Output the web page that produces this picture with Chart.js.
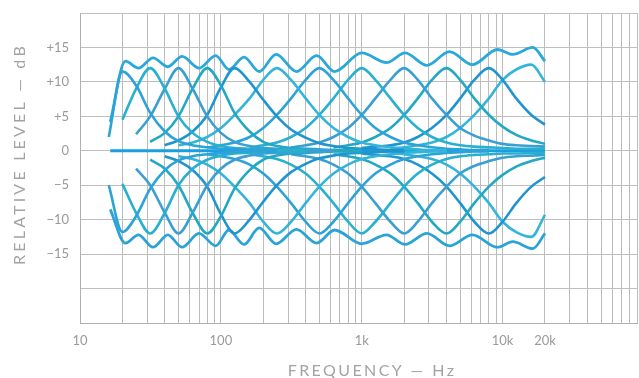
<!DOCTYPE html>
<html>
<head>
<meta charset="utf-8">
<script src="https://cdn.jsdelivr.net/npm/chart.js@4"></script>
<style>
  html, body { margin: 0; padding: 0; background: #fff; }
  #eq { display: block; }
</style>
</head>
<body>
<canvas id="eq" width="639" height="378"></canvas>
<script>
const _ = null;

// 1/3-octave frequency points the band curves were read at
const freqs = [16, 20, 25, 31.5, 40, 50, 63, 80, 100, 125, 160, 200, 250, 315, 400, 500,
    630, 800, 1000, 1250, 1600, 2000, 2500, 3150, 4000, 5000, 6300, 8000, 10000, 12500, 16000, 20000];

// single band at full boost (dB)
const boost20 = [2, 11.5, 9.5, 5.5, 2.8, 1.4, 0.8, 0.5, 0.3, 0.2, 0.1, 0.1, 0.1, _, _, _, _, _, _, _, _, _, _, _, _, _, _, _, _, _, _, _];
const boost31 = [_, 4.5, 9, 12, 9, 5, 2.6, 1.3, 0.7, 0.4, 0.3, 0.2, 0.1, 0.1, 0.1, _, _, _, _, _, _, _, _, _, _, _, _, _, _, _, _, _];
const boost50 = [_, _, 2.4, 5, 9, 12, 9, 5, 2.6, 1.3, 0.7, 0.4, 0.3, 0.2, 0.1, 0.1, 0.1, _, _, _, _, _, _, _, _, _, _, _, _, _, _, _];
const boost80 = [_, _, _, 1.3, 2.6, 5, 9, 12, 9.5, 5.5, 2.8, 1.3, 0.7, 0.4, 0.3, 0.2, 0.1, 0.1, 0.1, _, _, _, _, _, _, _, _, _, _, _, _, _];
const boost125 = [_, _, _, _, 0.8, 1.5, 2.8, 5.2, 9.2, 12, 10, 7.4, 5, 3.1, 1.9, 1.1, 0.7, 0.4, 0.3, 0.2, 0.1, 0.1, _, _, _, _, _, _, _, _, _, _];
const boost250 = [_, _, _, _, _, 0.8, 1.2, 2.0, 3.3, 5.2, 7.6, 10.3, 12, 10.3, 7.6, 5.2, 3.3, 2.0, 1.2, 0.8, 0.5, 0.3, 0.2, 0.1, 0.1, _, _, _, _, _, _, _];
const boost500 = [_, _, _, _, _, _, _, 0.5, 0.8, 1.2, 2.0, 3.3, 5.2, 7.6, 10.3, 12, 10.3, 7.6, 5.2, 3.3, 2.0, 1.2, 0.8, 0.5, 0.3, 0.2, 0.1, 0.1, _, _, _, _];
const boost1k = [_, _, _, _, _, _, _, _, _, _, 0.5, 0.8, 1.2, 2.0, 3.3, 5.2, 7.6, 10.3, 12, 10.3, 7.6, 5.2, 3.3, 2.0, 1.2, 0.8, 0.6, 0.5, 0.4, 0.3, 0.3, 0.3];
const boost2k = [_, _, _, _, _, _, _, _, _, _, _, _, _, 0.5, 0.8, 1.2, 2.0, 3.3, 5.2, 7.6, 10.3, 12, 10.3, 7.6, 5.2, 3.3, 2.2, 1.5, 1.0, 0.8, 0.7, 0.6];
const boost4k = [_, _, _, _, _, _, _, _, _, _, _, _, _, _, _, _, 0.5, 0.8, 1.2, 2.0, 3.3, 5.2, 7.6, 10.3, 12, 10.3, 7.6, 5.2, 3.5, 2.3, 1.5, 1.0];
const boost8k = [_, _, _, _, _, _, _, _, _, _, _, _, _, _, _, _, _, _, 0.4, 0.6, 0.8, 1.2, 2.0, 3.3, 5.2, 7.6, 10.3, 12, 10.3, 7.6, 5.2, 3.8];
const boost16k = [_, _, _, _, _, _, _, _, _, _, _, _, _, _, _, _, _, _, _, _, 0.3, 0.5, 0.8, 1.2, 2.0, 3.3, 5.2, 7.6, 10.3, 11.8, 12.5, 10];

// single band at full cut (dB)
const cut20 = [-5, -11.8, -9.5, -5.5, -2.8, -1.4, -0.8, -0.5, -0.3, -0.2, -0.1, -0.1, -0.1, _, _, _, _, _, _, _, _, _, _, _, _, _, _, _, _, _, _, _];
const cut31 = [_, -4.8, -9, -12, -9, -5, -2.6, -1.3, -0.7, -0.4, -0.3, -0.2, -0.1, -0.1, -0.1, _, _, _, _, _, _, _, _, _, _, _, _, _, _, _, _, _];
const cut50 = [_, _, -2.6, -5, -9, -12, -9, -5, -2.6, -1.3, -0.7, -0.4, -0.3, -0.2, -0.1, -0.1, -0.1, _, _, _, _, _, _, _, _, _, _, _, _, _, _, _];
const cut80 = [_, _, _, -1.3, -2.6, -5, -9, -12, -9.5, -5.5, -2.8, -1.3, -0.7, -0.4, -0.3, -0.2, -0.1, -0.1, -0.1, _, _, _, _, _, _, _, _, _, _, _, _, _];
const cut125 = [_, _, _, _, -0.8, -1.5, -2.8, -5.2, -9.2, -12, -10, -7.4, -5, -3.1, -1.9, -1.1, -0.7, -0.4, -0.3, -0.2, -0.1, -0.1, _, _, _, _, _, _, _, _, _, _];
const cut250 = [_, _, _, _, _, -0.8, -1.2, -2.0, -3.3, -5.2, -7.6, -10.3, -12, -10.3, -7.6, -5.2, -3.3, -2.0, -1.2, -0.8, -0.5, -0.3, -0.2, -0.1, -0.1, _, _, _, _, _, _, _];
const cut500 = [_, _, _, _, _, _, _, -0.5, -0.8, -1.2, -2.0, -3.3, -5.2, -7.6, -10.3, -12, -10.3, -7.6, -5.2, -3.3, -2.0, -1.2, -0.8, -0.5, -0.3, -0.2, -0.1, -0.1, _, _, _, _];
const cut1k = [_, _, _, _, _, _, _, _, _, _, -0.5, -0.8, -1.2, -2.0, -3.3, -5.2, -7.6, -10.3, -12, -10.3, -7.6, -5.2, -3.3, -2.0, -1.2, -0.8, -0.6, -0.5, -0.4, -0.4, -0.3, -0.3];
const cut2k = [_, _, _, _, _, _, _, _, _, _, _, _, _, -0.5, -0.8, -1.2, -2.0, -3.3, -5.2, -7.6, -10.3, -12, -10.3, -7.6, -5.2, -3.3, -2.2, -1.5, -1.0, -0.8, -0.7, -0.6];
const cut4k = [_, _, _, _, _, _, _, _, _, _, _, _, _, _, _, _, -0.5, -0.8, -1.2, -2.0, -3.3, -5.2, -7.6, -10.3, -12, -10.3, -7.6, -5.2, -3.5, -2.3, -1.5, -1.0];
const cut8k = [_, _, _, _, _, _, _, _, _, _, _, _, _, _, _, _, _, _, -0.4, -0.6, -0.8, -1.2, -2.0, -3.3, -5.2, -7.6, -10.3, -12, -10.3, -7.6, -5.2, -3.8];
const cut16k = [_, _, _, _, _, _, _, _, _, _, _, _, _, _, _, _, _, _, _, _, -0.3, -0.5, -0.8, -1.2, -2.0, -3.3, -5.2, -7.6, -10.3, -11.8, -12.5, -9.3];

// all bands at full boost / full cut, read at the ripple peaks and dips
const allBoostFreqs = [16.4, 21, 26, 33, 42, 53, 70, 92, 114, 146, 187, 247, 344, 479, 641, 1000, 1500, 2030, 2900, 4200, 6100, 9200, 11800, 16400, 20000];
const allBoostLevels = [4.2, 13, 12, 13.5, 12.2, 13.7, 12, 13.8, 11.8, 13.6, 11.5, 14, 11.5, 13.8, 11.5, 14.2, 12.8, 14.2, 12.4, 14.4, 12.5, 14.7, 14, 15, 13];
const allCutFreqs = [16.4, 21, 26, 33, 42, 53, 70, 92, 114, 146, 187, 247, 344, 479, 641, 1000, 1500, 2030, 2900, 4200, 6100, 9200, 11800, 16400, 20000];
const allCutLevels = [-8.5, -13.4, -12.2, -14, -12.2, -14, -12, -13.8, -11.5, -13.6, -11.2, -13.5, -11.4, -13.4, -11.5, -13.5, -12.2, -13.6, -12, -13.8, -12.2, -14, -13.2, -14.2, -12];

// flat setting
const flatFreqs = [16.4, 20000];
const flatLevels = [0, 0];

const xLabels = { 10: '10', 100: '100', 1000: '1k', 10000: '10k', 20000: '20k' };
const xGrid = [10, 20, 30, 40, 50, 60, 70, 80, 90, 100, 200, 300, 400, 500, 600, 700, 800, 900,
    1000, 2000, 3000, 4000, 5000, 6000, 7000, 8000, 9000, 10000, 20000, 30000, 40000, 50000,
    60000, 70000, 80000, 90000];

const palette = ['#2ba3d8', '#27b0cf', '#3a9fd2', '#22a9c2', '#1f95cf', '#33b5da'];

function points(xs, ys) {
    const out = [];
    xs.forEach((x, i) => {
        if (ys[i] !== null) out.push({ x: x, y: ys[i] });
    });
    return out;
}

const bandCurves = [boost20, boost31, boost50, boost80, boost125, boost250, boost500, boost1k, boost2k, boost4k, boost8k, boost16k,
    cut20, cut31, cut50, cut80, cut125, cut250, cut500, cut1k, cut2k, cut4k, cut8k, cut16k];

const datasets = bandCurves.map((row, i) => ({
    data: points(freqs, row),
    borderColor: palette[i % palette.length],
    borderWidth: 2.6,
    pointRadius: 0,
    cubicInterpolationMode: 'monotone',
    fill: false
}));
datasets.push({ data: points(allBoostFreqs, allBoostLevels), borderColor: '#2aa8da', borderWidth: 2.8, pointRadius: 0, cubicInterpolationMode: 'monotone' });
datasets.push({ data: points(allCutFreqs, allCutLevels), borderColor: '#2aa3d6', borderWidth: 2.8, pointRadius: 0, cubicInterpolationMode: 'monotone' });
datasets.push({ data: points(flatFreqs, flatLevels), borderColor: '#189fe0', borderWidth: 3, pointRadius: 0 });

const axisTitles = {
    id: 'axisTitles',
    afterDraw(chart) {
        const ctx = chart.ctx;
        ctx.save();
        ctx.fillStyle = '#a3a3a3';
        ctx.font = '16px Lato';
        ctx.letterSpacing = '2.4px';
        ctx.textAlign = 'center';
        ctx.textBaseline = 'middle';
        ctx.fillText('FREQUENCY — Hz', 372, 371);
        ctx.translate(20, 154);
        ctx.rotate(-Math.PI / 2);
        ctx.letterSpacing = '3.2px';
        ctx.fillText('RELATIVE LEVEL — dB', 0, 0);
        ctx.restore();
    }
};

new Chart(document.getElementById('eq'), {
    type: 'line',
    data: { datasets: datasets },
    plugins: [axisTitles],
    options: {
        responsive: false,
        animation: false,
        devicePixelRatio: 1,
        layout: { padding: { left: 0, right: 2, top: 13, bottom: 0 } },
        plugins: { legend: { display: false }, tooltip: { enabled: false } },
        scales: {
            x: {
                type: 'logarithmic',
                min: 10,
                max: 90000,
                afterBuildTicks: scale => { scale.ticks = xGrid.map(v => ({ value: v })); },
                afterFit: scale => {
                    scale.height = 55;
                    scale.paddingLeft = 0;
                    scale.paddingRight = 0;
                },
                grid: { color: '#bcbcbc', lineWidth: 1, drawTicks: false },
                border: { color: '#b0b0b0' },
                ticks: {
                    autoSkip: false,
                    maxRotation: 0,
                    padding: 10,
                    color: '#9a9a9a',
                    font: { family: 'Lato', size: 13 },
                    callback: v => xLabels[v] || ''
                }
            },
            y: {
                min: -25,
                max: 20,
                afterFit: scale => {
                    scale.width = 80;
                    scale.paddingTop = 0;
                    scale.paddingBottom = 0;
                },
                grid: { color: '#bfbfbf', lineWidth: 1, drawTicks: false },
                border: { color: '#b0b0b0' },
                ticks: {
                    stepSize: 5,
                    padding: 11,
                    color: '#9a9a9a',
                    font: { family: 'Lato', size: 13 },
                    callback: v => {
                        if (v > 15 || v < -15) return '';
                        if (v > 0) return '+' + v;
                        if (v < 0) return '−' + Math.abs(v);
                        return '0';
                    }
                }
            }
        }
    }
});
</script>
</body>
</html>
